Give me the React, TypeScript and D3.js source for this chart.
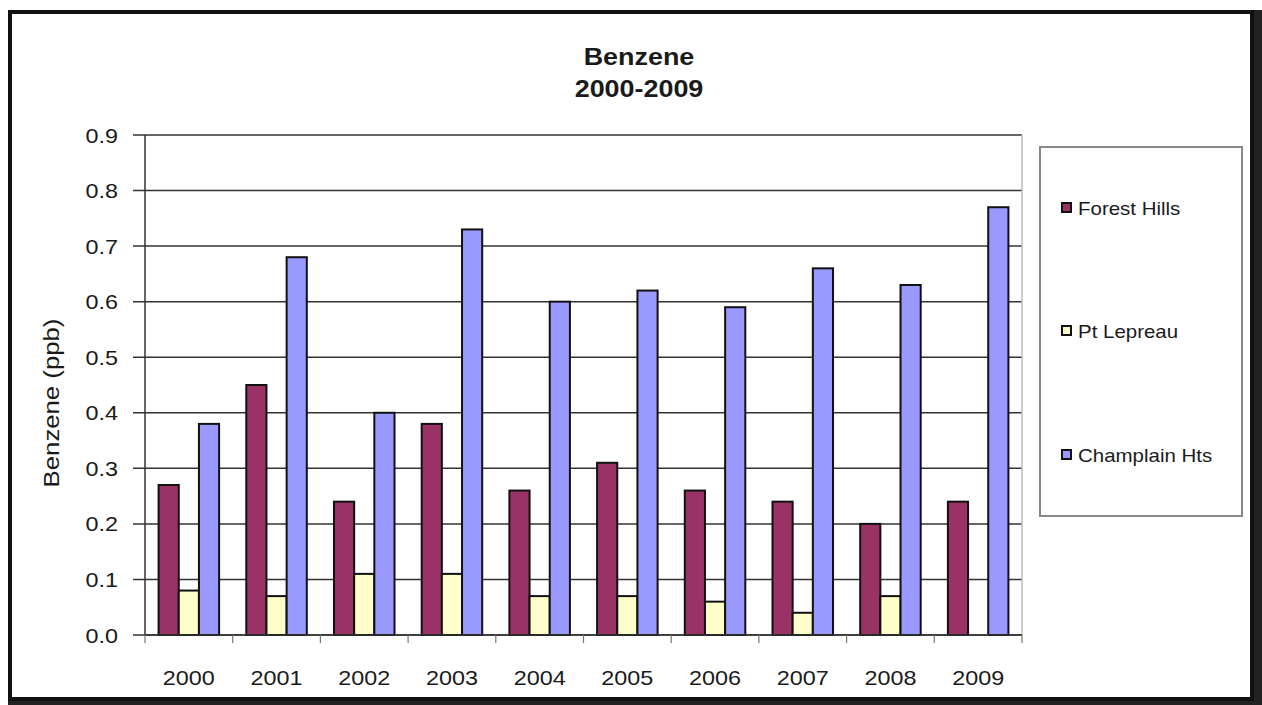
import React from "react";
import * as d3 from "d3";

const years = ["2000", "2001", "2002", "2003", "2004", "2005", "2006", "2007", "2008", "2009"];
const forestHills = [0.27, 0.45, 0.24, 0.38, 0.26, 0.31, 0.26, 0.24, 0.2, 0.24];
const ptLepreau = [0.08, 0.07, 0.11, 0.11, 0.07, 0.07, 0.06, 0.04, 0.07, 0];
const champlainHts = [0.38, 0.68, 0.4, 0.73, 0.6, 0.62, 0.59, 0.66, 0.63, 0.77];
const seriesNames = ["Forest Hills", "Pt Lepreau", "Champlain Hts"];
const seriesColors = ["#993366", "#FFFFCC", "#9999FF"];
const yTicks = [0, 0.1, 0.2, 0.3, 0.4, 0.5, 0.6, 0.7, 0.8, 0.9];

const W = 1262;
const H = 705;
const FONT = "'Liberation Sans', Arial, sans-serif";
const SX = 1.17;

function T(props: { x: number; y: number; size: number; anchor?: string; bold?: boolean; rotate?: number; children: React.ReactNode }) {
  const { x, y, size, anchor = "start", bold = false, rotate = 0, children } = props;
  return (
    <text
      transform={`translate(${x},${y}) rotate(${rotate}) scale(${SX},1)`}
      textAnchor={anchor}
      fontSize={size}
      fontWeight={bold ? "bold" : "normal"}
      fill="#1a1a1a"
    >
      {children}
    </text>
  );
}

export default function App() {
  const left = 145, right = 1022, top = 135, bottom = 635;
  const x = d3.scaleBand<string>().domain(years).range([left, right]).paddingInner(0.31).paddingOuter(0.155);
  const y = d3.scaleLinear().domain([0, 0.9]).range([bottom, top]);
  const series = [forestHills, ptLepreau, champlainHts];
  const xs = d3.scaleBand<number>().domain([0, 1, 2]).range([0, x.bandwidth()]);
  const step = (right - left) / years.length;
  const legendYs = [208, 331, 455];

  return (
    <svg width={W} height={H} style={{ position: "absolute", left: 0, top: 0, background: "#fff" }} fontFamily={FONT}>
      <rect x={0} y={0} width={W} height={H} fill="#fff" />
      {/* outer frame with shadow */}
      <rect x={1251} y={10} width={11} height={695} fill="#222" />
      <rect x={8} y={698} width={1254} height={7} fill="#222" />
      <rect x={10} y={12} width={1242} height={687} fill="none" stroke="#111" strokeWidth={4} />

      {/* title */}
      <T x={639} y={65} size={23} anchor="middle" bold>Benzene</T>
      <T x={639} y={97} size={23} anchor="middle" bold>2000-2009</T>

      {/* gridlines */}
      {yTicks.map((t) => (
        <line key={"g" + t} x1={left - 12} x2={right} y1={y(t)} y2={y(t)} stroke="#333" strokeWidth={1.5} />
      ))}
      {/* plot right edge */}
      <line x1={right} x2={right} y1={top} y2={bottom} stroke="#bbb" strokeWidth={1.5} />

      {/* y tick labels */}
      {yTicks.map((t) => (
        <T key={"t" + t} x={118} y={y(t) + 7.5} size={20} anchor="end">{t.toFixed(1)}</T>
      ))}
      <T x={59} y={403} size={22} anchor="middle" rotate={-90}>Benzene (ppb)</T>

      {/* bars */}
      {years.map((yr, i) => (
        <g key={yr} transform={`translate(${x(yr)},0)`}>
          {series.map((vals, s) =>
            vals[i] > 0 ? (
              <rect
                key={s}
                x={xs(s)}
                y={y(vals[i])}
                width={xs.bandwidth()}
                height={y(0) - y(vals[i])}
                fill={seriesColors[s]}
                stroke="#111"
                strokeWidth={2}
              />
            ) : null
          )}
        </g>
      ))}

      {/* axes */}
      <line x1={left} x2={left} y1={top} y2={bottom} stroke="#333" strokeWidth={1.5} />
      <line x1={left} x2={right} y1={bottom} y2={bottom} stroke="#333" strokeWidth={1.5} />
      {d3.range(years.length + 1).map((k) => (
        <line key={"xt" + k} x1={left + k * step} x2={left + k * step} y1={bottom} y2={bottom + 8} stroke="#777" strokeWidth={1.2} />
      ))}
      {years.map((yr) => (
        <T key={"xl" + yr} x={(x(yr) as number) + x.bandwidth() / 2} y={685} size={20} anchor="middle">{yr}</T>
      ))}

      {/* legend */}
      <rect x={1040} y={147} width={202} height={369} fill="#fff" stroke="#888" strokeWidth={2} />
      {seriesNames.map((n, s) => (
        <g key={n}>
          <rect x={1062} y={legendYs[s] - 5} width={9} height={9} fill={seriesColors[s]} stroke="#111" strokeWidth={2} />
          <T x={1078} y={legendYs[s] + 7} size={17.5}>{n}</T>
        </g>
      ))}
    </svg>
  );
}
